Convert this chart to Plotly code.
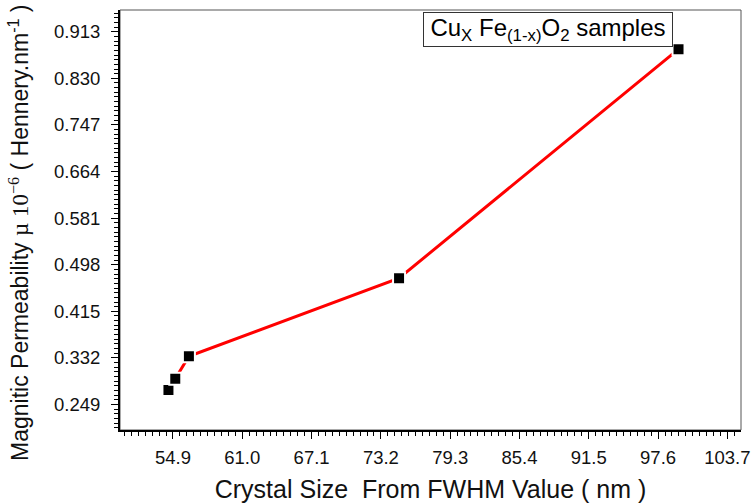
import plotly.graph_objects as go

# Crystal size (nm) vs magnetic permeability for CuxFe(1-x)O2 samples
crystal_size = [54.5, 55.1, 56.3, 74.8, 99.4]
permeability = [0.275, 0.295, 0.335, 0.474, 0.882]

FONT = "Arial, Liberation Sans, sans-serif"
SERIF = "Times New Roman, Liberation Serif, serif"

fig = go.Figure()
fig.add_trace(go.Scatter(
    x=crystal_size, y=permeability,
    mode="lines+markers",
    line=dict(color="#ff0000", width=3),
    marker=dict(symbol="square", size=12, color="black",
                line=dict(color="white", width=2)),
    showlegend=False,
))

axis_common = dict(
    showgrid=False, zeroline=False, automargin=False,
    showline=True, linecolor="black", linewidth=2,
    ticks="outside", ticklen=7, tickwidth=1.3, tickcolor="black",
    tickfont=dict(family=FONT, size=18.5, color="#111"),
)

fig.update_xaxes(
    range=[50.235, 104.9],
    tick0=54.9, dtick=6.1, tickformat=".1f",
    minor=dict(ticks="outside", ticklen=4, tickcolor="black", tick0=54.9, dtick=0.61),
    ticklabelstandoff=3,
    title=dict(text="Crystal Size  From FWHM Value ( nm )",
               font=dict(family=FONT, size=25, color="#111"), standoff=14),
    **axis_common,
)
fig.update_yaxes(
    range=[0.2036, 0.9517],
    tick0=0.249, dtick=0.083, tickformat=".3f",
    minor=dict(ticks="outside", ticklen=4, tickcolor="black", tick0=0.249, dtick=0.0083),
    ticklabelstandoff=7,
    **axis_common,
)

# y-axis title placed as a rotated annotation
fig.add_annotation(
    xref="paper", yref="paper", x=-0.163, y=0.471,
    xanchor="center", yanchor="middle", textangle=-90, showarrow=False,
    text=f"Magnitic Permeability <span style='font-family:{SERIF}'>µ 10<sup>−6</sup></span> ( Hennery.nm<sup>-1</sup> )",
    font=dict(family=FONT, size=23, color="#111"),
)

# thin frame on the top and right sides
fig.add_shape(type="rect", xref="paper", yref="paper", x0=0, x1=1, y0=0, y1=1,
              line=dict(color="#555", width=1), layer="below")

fig.add_annotation(
    xref="paper", yref="paper", x=0.488, y=0.995, xanchor="left", yanchor="top",
    text="Cu<sub>X</sub> Fe<sub>(1-x)</sub>O<sub>2</sub> samples",
    showarrow=False, font=dict(family=FONT, size=24, color="black"),
    width=246, height=31, align="center",
    bordercolor="#333", borderwidth=1, borderpad=1, bgcolor="white",
)

fig.update_layout(
    width=754, height=503,
    margin=dict(l=120, r=13, t=10, b=73),
    plot_bgcolor="white", paper_bgcolor="white",
)

fig.write_html("out.html")
